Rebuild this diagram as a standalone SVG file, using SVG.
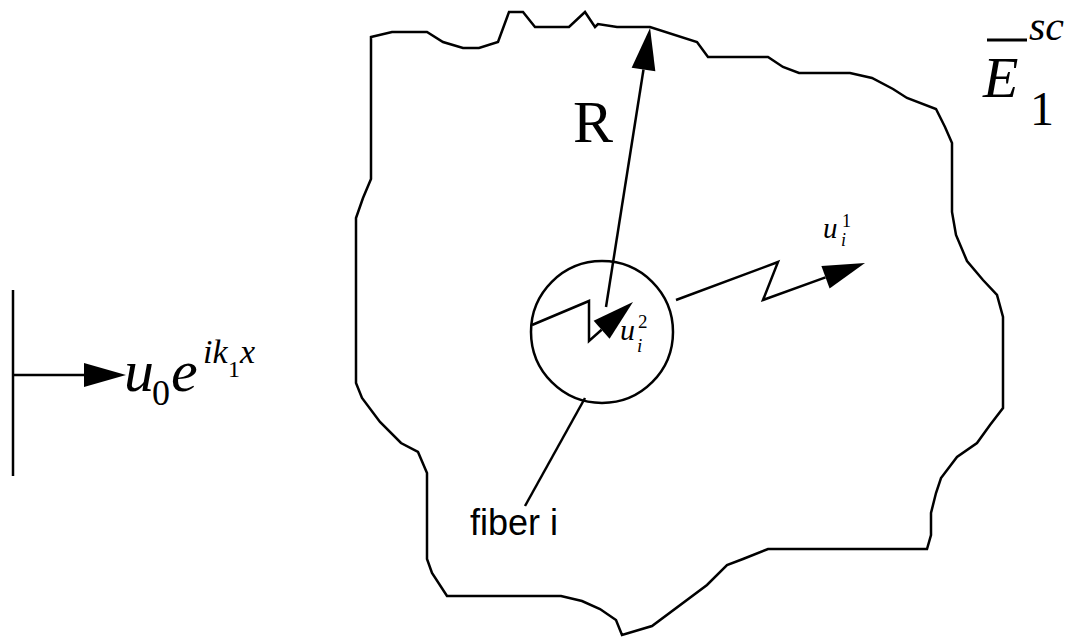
<svg xmlns="http://www.w3.org/2000/svg" width="1076" height="641" viewBox="0 0 1076 641">
<style>
.ln{fill:none;stroke:#000;stroke-width:2.5;stroke-linejoin:miter}
.mi{font-family:"Liberation Serif","Times New Roman",serif;font-style:italic;fill:#000}
.mr{font-family:"Liberation Serif","Times New Roman",serif;font-style:normal;fill:#000}
.sans{font-family:"Liberation Sans",Arial,sans-serif;fill:#000}
</style>
<defs>
<marker id="ah" markerUnits="userSpaceOnUse" markerWidth="44" markerHeight="26" refX="0" refY="12" orient="auto" overflow="visible">
<path d="M0,0 L42,12 L0,24 z" fill="#000"/>
</marker>
</defs>
<rect width="1076" height="641" fill="#fff"/>
<g id="region">
<polygon class="ln" points="371,37 392,32 427,32 443,42 463,48 479,48 498,42 509,12 523,12 535,27 569,27 585,12 595,27 598,24 617,27 650,27 697,42 708,57 768,57 783,67 799,73 850,73 872,78 893,89 907,98 936,109 945,127 952,143 952,212 956,235 967,261 983,280 997,295 1003,317 1003,408 990,425 977,443 957,457 941,478 936,493 931,513 931,535 927,549 768,549 743,559 727,565 707,585 652,626 622,635 616,620 600,609 582,601 561,596 447,596 432,573 427,559 427,473 418,452 401,443 380,422 362,398 356,383 356,218 363,198 371,179"/>
</g>
<g id="fiber">
<circle class="ln" cx="602" cy="332" r="71"/>
</g>
<g id="wavefront">
<line class="ln" x1="13" y1="290" x2="13" y2="476"/>
</g>
<g id="connectors">
<line class="ln" x1="606" y1="307" x2="643.5" y2="69.5" marker-end="url(#ah)"/>
<polyline class="ln" points="532,325 589,301 589,341 601.6,329.8" marker-end="url(#ah)"/>
<polyline class="ln" points="676,300 778,262 763,300 825.5,277.3" marker-end="url(#ah)"/>
<line class="ln" x1="13" y1="375" x2="84" y2="375" marker-end="url(#ah)"/>
<line class="ln" x1="585" y1="398" x2="525" y2="506"/>
</g>
<g id="labels">
<text class="mr" x="573" y="142" font-size="60">R</text>
<text class="sans" x="470" y="535" font-size="36">fiber i</text>
<text class="mi" font-size="30"><tspan x="620" y="340">u</tspan><tspan x="637" y="352" font-size="19">i</tspan><tspan x="638" y="328" font-size="19" font-style="normal">2</tspan></text>
<text class="mi" font-size="29"><tspan x="823" y="238">u</tspan><tspan x="841" y="246" font-size="18">i</tspan><tspan x="842" y="227" font-size="18" font-style="normal">1</tspan></text>
<text class="mi" font-size="60"><tspan x="124" y="391">u</tspan><tspan x="152" y="405" font-size="36" font-style="normal">0</tspan><tspan x="171" y="391">e</tspan><tspan x="203" y="363" font-size="34">ik</tspan><tspan x="228" y="377" font-size="24" font-style="normal">1</tspan><tspan x="240" y="363" font-size="34">x</tspan></text>
<line x1="987" y1="40" x2="1027" y2="40" stroke="#000" stroke-width="3"/>
<text class="mi" font-size="58"><tspan x="983" y="97">E</tspan><tspan x="1029" y="40" font-size="42">sc</tspan><tspan x="1030" y="125" font-size="48" font-style="normal">1</tspan></text>
</g>
</svg>
